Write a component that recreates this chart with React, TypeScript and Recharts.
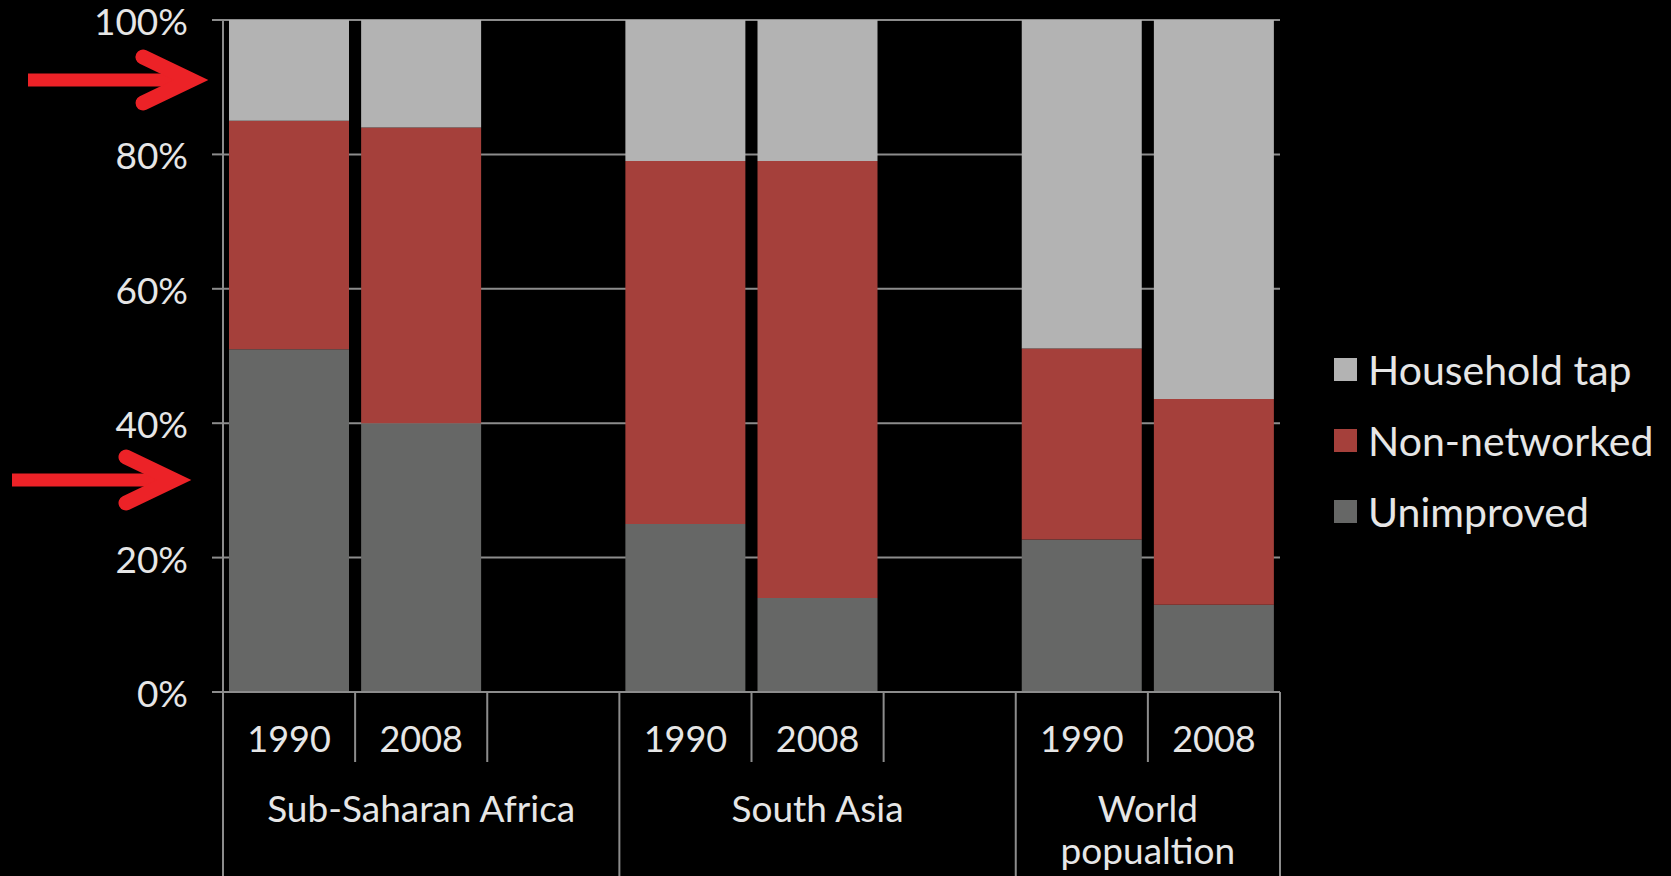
import React from 'react';
import { BarChart, Bar, XAxis, YAxis, CartesianGrid } from 'recharts';

// slots along the x axis; empty strings are spacer slots between regions
const categories = ['1990', '2008', '', '1990', '2008', '', '1990', '2008'];
const regions = [['Sub-Saharan Africa'], ['South Asia'], ['World', 'popualtion']];
const regionStarts = [0, 3, 6];
const regionSpans = [3, 3, 2];

const unimproved = [51, 40, null, 25, 14, null, 22.7, 13];
const nonNetworked = [34, 44, null, 54, 65, null, 28.4, 30.6];
const householdTap = [15, 16, null, 21, 21, null, 48.9, 56.4];

const yTicks = [0, 20, 40, 60, 80, 100];

const series = [
  { key: 'householdTap', name: 'Household tap', color: '#b3b3b3' },
  { key: 'nonNetworked', name: 'Non-networked', color: '#a5403b' },
  { key: 'unimproved', name: 'Unimproved', color: '#666766' },
];

const data = categories.map((year, i) => ({
  slot: `s${i}`,
  year,
  unimproved: unimproved[i],
  nonNetworked: nonNetworked[i],
  householdTap: householdTap[i],
}));

const W = 1671;
const H = 876;
const AXIS_W = 223;
const PLOT_RIGHT = 1280;
const TOP = 20;
const XAXIS_H = 184;
const SLOT_W = (PLOT_RIGHT - AXIS_W) / categories.length;

const FONT = 'Lato, sans-serif';
const TEXT = '#e6e6e6';
const LINE = '#8c8c8c';

const YearTick = (props: any) => {
  const { x, y, index } = props;
  const left = x - SLOT_W / 2;
  const r = regionStarts.indexOf(index);
  return (
    <g>
      <line x1={left} x2={left} y1={y} y2={r >= 0 ? H : y + 70} stroke={LINE} strokeWidth={2} />
      {index === categories.length - 1 && (
        <line x1={x + SLOT_W / 2} x2={x + SLOT_W / 2} y1={y} y2={H} stroke={LINE} strokeWidth={2} />
      )}
      <text x={x} y={y + 60} textAnchor="middle" fill={TEXT} fontSize={36} fontFamily={FONT}>
        {categories[index]}
      </text>
      {r >= 0 &&
        regions[r].map((line, k) => (
          <text
            key={k}
            x={left + (regionSpans[r] * SLOT_W) / 2}
            y={y + 130 + k * 42}
            textAnchor="middle"
            fill={TEXT}
            fontSize={37}
            fontFamily={FONT}
          >
            {line}
          </text>
        ))}
    </g>
  );
};

const PercentTick = (props: any) => {
  const { x, y, payload } = props;
  return (
    <text x={x} y={y + 15} textAnchor="end" fill={TEXT} fontSize={37} fontFamily={FONT}>
      {`${payload.value}%`}
    </text>
  );
};

const Arrow = ({ x0, x1, y }: { x0: number; x1: number; y: number }) => (
  <g stroke="#ec2227" fill="none">
    <line x1={x0} x2={x1 - 8} y1={y} y2={y} strokeWidth={13} />
    <polyline
      points={`${x1 - 54},${y - 23} ${x1 - 6},${y} ${x1 - 54},${y + 23}`}
      strokeWidth={15}
      strokeLinecap="round"
      strokeLinejoin="miter"
    />
  </g>
);

export default function App() {
  return (
    <div
      style={{
        position: 'fixed',
        left: 0,
        top: 0,
        width: W,
        height: H,
        background: '#000',
        fontFamily: FONT,
        overflow: 'hidden',
      }}
    >
      <BarChart
        width={W}
        height={H}
        data={data}
        margin={{ top: TOP, right: W - PLOT_RIGHT, bottom: 0, left: 0 }}
        barCategoryGap={6}
      >
        <CartesianGrid vertical={false} stroke={LINE} strokeWidth={2} />
        <XAxis
          dataKey="slot"
          height={XAXIS_H}
          axisLine={{ stroke: LINE, strokeWidth: 2 }}
          tickLine={false}
          tickSize={0}
          tickMargin={0}
          interval={0}
          tick={YearTick}
        />
        <YAxis
          width={AXIS_W}
          domain={[0, 100]}
          ticks={yTicks}
          interval={0}
          axisLine={{ stroke: LINE, strokeWidth: 2 }}
          tickLine={{ stroke: LINE, strokeWidth: 2 }}
          tickSize={11}
          tickMargin={24}
          tick={PercentTick}
        />
        <Bar dataKey="unimproved" stackId="a" fill="#666766" isAnimationActive={false} />
        <Bar dataKey="nonNetworked" stackId="a" fill="#a5403b" isAnimationActive={false} />
        <Bar dataKey="householdTap" stackId="a" fill="#b3b3b3" isAnimationActive={false} />
      </BarChart>

      {/* legend, top entry is the top of the stack */}
      <div style={{ position: 'absolute', left: 1334, top: 334 }}>
        {series.map((s) => (
          <div key={s.key} style={{ display: 'flex', alignItems: 'center', height: 71 }}>
            <div style={{ width: 23, height: 23, background: s.color, marginRight: 11 }} />
            <span style={{ color: TEXT, fontSize: 41, lineHeight: '71px' }}>{s.name}</span>
          </div>
        ))}
      </div>

      <svg width={240} height={H} style={{ position: 'absolute', left: 0, top: 0 }}>
        <Arrow x0={28} x1={197} y={80} />
        <Arrow x0={12} x1={180} y={480} />
      </svg>
    </div>
  );
}
